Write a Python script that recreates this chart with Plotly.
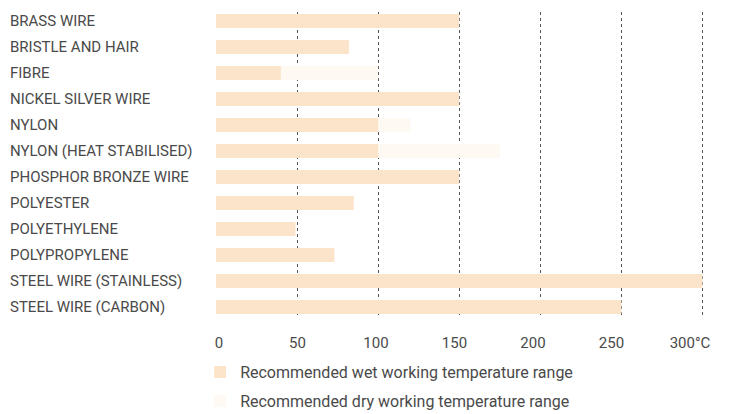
import plotly.graph_objects as go

# Brush filament materials, top to bottom as in the chart
materials = [
    "BRASS WIRE",
    "BRISTLE AND HAIR",
    "FIBRE",
    "NICKEL SILVER WIRE",
    "NYLON",
    "NYLON (HEAT STABILISED)",
    "PHOSPHOR BRONZE WIRE",
    "POLYESTER",
    "POLYETHYLENE",
    "POLYPROPYLENE",
    "STEEL WIRE (STAINLESS)",
    "STEEL WIRE (CARBON)",
]

# Max recommended working temperature, degrees C
wet_max = [150, 82, 40, 150, 100, 100, 150, 85, 49, 73, 300, 250]
dry_max = [150, 82, 100, 150, 120, 175, 150, 85, 49, 73, 300, 250]

tick_vals = [0, 50, 100, 150, 200, 250, 300]
tick_text = ["0", "50", "100", "150", "200", "250", "300°C"]

WET_COLOR = "#fce4ca"
DRY_COLOR = "#fef9f3"
TEXT_COLOR = "#4a4a4a"
LABEL_FONT = "Roboto, Arial, sans-serif"

fig = go.Figure()

fig.add_trace(
    go.Bar(
        y=materials,
        x=dry_max,
        orientation="h",
        width=0.54,
        marker={"color": DRY_COLOR, "line": {"width": 0}},
        name="Recommended dry working temperature range",
        legendgroup="dry",
        legendrank=2,
    )
)
fig.add_trace(
    go.Bar(
        y=materials,
        x=wet_max,
        orientation="h",
        width=0.54,
        marker={"color": WET_COLOR, "line": {"width": 0}},
        name="Recommended wet working temperature range",
        legendgroup="wet",
        legendrank=1,
    )
)

# Left-aligned category labels
for m in materials:
    fig.add_annotation(
        x=-0.419,
        xref="paper",
        y=m,
        yref="y",
        text=m,
        showarrow=False,
        xanchor="left",
        yanchor="middle",
        font={"family": LABEL_FONT, "size": 15, "color": TEXT_COLOR},
    )

# page body has an 8px margin, so the figure is sized 8px smaller
fig.update_layout(
    width=723,
    height=406,
    margin={"l": 208, "r": 19, "t": 4, "b": 96, "autoexpand": False},
    paper_bgcolor="white",
    plot_bgcolor="white",
    barmode="overlay",
    bargap=0.46,
    showlegend=True,
    legend={
        "x": -0.032,
        "y": -0.121,
        "yanchor": "top",
        "xanchor": "left",
        "traceorder": "grouped",
        "tracegroupgap": 5,
        "font": {"family": LABEL_FONT, "size": 16, "color": TEXT_COLOR},
        "bgcolor": "rgba(0,0,0,0)",
    },
    xaxis={
        "range": [0, 306],
        "tickvals": tick_vals[1:],
        "showticklabels": False,
        "showgrid": True,
        "gridcolor": "#555555",
        "griddash": "3px,3px",
        "gridwidth": 1,
        "zeroline": False,
        "showline": False,
    },
    # label-only axis: tick labels sit slightly off the grid lines as in the print
    xaxis2={
        "overlaying": "x",
        "side": "bottom",
        "range": [-1.9, 314],
        "tickvals": tick_vals,
        "ticktext": tick_text,
        "tickangle": 0,
        "showgrid": False,
        "zeroline": False,
        "showline": False,
        "ticks": "",
        "ticklabelstandoff": 14,
        "tickfont": {"family": LABEL_FONT, "size": 15, "color": TEXT_COLOR},
    },
    yaxis={
        "categoryorder": "array",
        "categoryarray": materials,
        "range": [11.42, -0.35],
        "showticklabels": False,
        "showgrid": False,
        "zeroline": False,
        "showline": False,
    },
)

# invisible trace so the label axis is drawn
fig.add_trace(
    go.Scatter(
        x=[0, 300],
        y=[materials[0], materials[0]],
        xaxis="x2",
        mode="markers",
        marker={"opacity": 0},
        showlegend=False,
        hoverinfo="skip",
    )
)

fig.write_html("out.html")
